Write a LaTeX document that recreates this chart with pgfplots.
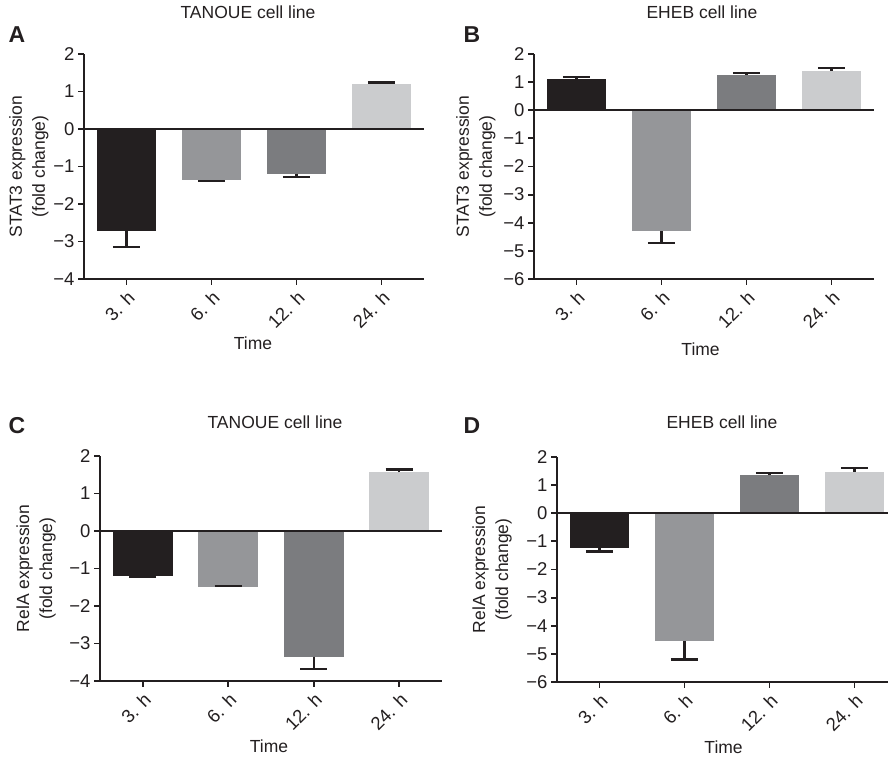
\documentclass[border=0pt]{standalone}
\usepackage{fontspec}
\setmainfont{Liberation Sans}
\usepackage{pgfplots}
\pgfplotsset{compat=1.18}
\definecolor{cA}{HTML}{231F20}
\definecolor{cB}{HTML}{959699}
\definecolor{cC}{HTML}{7B7C7F}
\definecolor{cD}{HTML}{CBCCCE}
\newcommand{\fs}{\fontsize{18.5}{21}\selectfont}
\newcommand{\fl}{\fontsize{17.5}{23}\selectfont}
% bar: x, value, colour
\newcommand{\pbar}[3]{\addplot[ybar, bar width=0.7, bar shift=0pt, fill=#3, draw=none]
  coordinates {(#1,#2)};}
% error bar: x, value, end, cap left, cap right
\newcommand{\ebar}[5]{\addplot[draw=cA, line width=2.3pt] coordinates {(#1,#2) (#1,#3)};
  \addplot[draw=cA, line width=2.3pt] coordinates {(#4,#3) (#5,#3)};}
\pgfplotsset{
  panel/.style={
    scale only axis, width=340pt, height=225pt, anchor=south west,
    axis x line=bottom, axis y line=left,
    axis line style={-, line width=1.8pt, cA},
    xmin=-0.5, xmax=3.5, xtick={0,1,2,3},
    xticklabels={3. h,6. h,12. h,24. h},
    tick align=outside, major tick length=6pt,
    tick style={line width=1.8pt, cA},
    xticklabel style={rotate=45, anchor=north east, font=\fs, text=cA},
    yticklabel style={font=\fs, text=cA},
    ylabel style={font=\fl, align=center, text=cA},
    xlabel style={font=\fl, text=cA},
    title style={font=\fl, text=cA, anchor=center},
    clip=false,
  },
  ya/.style={ymin=-4, ymax=2, ytick={-4,-3,-2,-1,0,1,2}, yticklabels={−4,−3,−2,−1,0,1,2}},
  yb/.style={ymin=-6, ymax=2, ytick={-6,-5,-4,-3,-2,-1,0,1,2}, yticklabels={−6,−5,−4,−3,−2,−1,0,1,2}},
}
\begin{document}
\begin{tikzpicture}[x=1pt,y=1pt]
\path[use as bounding box] (0,0) rectangle (888,759);
% Panel A
\begin{axis}[panel, ya, at={(84pt,480pt)},
  title={TANOUE cell line}, title style={at={(0.5,1)}, yshift=36pt, xshift=-6pt},
  ylabel={STAT3 expression\\(fold change)}, ylabel style={at={(axis description cs:-0.162,0.5)}, anchor=center},
  xlabel={Time}, xlabel style={at={(axis description cs:0.497,-0.284)}, anchor=center}]
\pbar{0}{-2.72}{cA}
\pbar{1}{-1.37}{cB}
\pbar{2}{-1.19}{cC}
\pbar{3}{1.20}{cD}
\ebar{0}{-2.72}{-3.14}{-0.16}{0.16}
\ebar{1}{-1.37}{-1.39}{0.84}{1.16}
\ebar{2}{-1.19}{-1.28}{1.84}{2.16}
\ebar{3}{1.20}{1.24}{2.84}{3.16}
\addplot[cA, line width=1.5pt] coordinates {(-0.5,0) (3.5,0)};
\end{axis}
% Panel B
\begin{axis}[panel, yb, at={(534pt,480pt)},
  title={EHEB cell line}, title style={at={(0.5,1)}, yshift=36pt, xshift=-2pt},
  ylabel={STAT3 expression\\(fold change)}, ylabel style={at={(axis description cs:-0.171,0.5)}, anchor=center},
  xlabel={Time}, xlabel style={at={(axis description cs:0.49,-0.311)}, anchor=center}]
\pbar{0}{1.12}{cA}
\pbar{1}{-4.30}{cB}
\pbar{2}{1.27}{cC}
\pbar{3}{1.41}{cD}
\ebar{0}{1.12}{1.17}{-0.16}{0.16}
\ebar{1}{-4.30}{-4.73}{0.84}{1.16}
\ebar{2}{1.27}{1.33}{1.84}{2.16}
\ebar{3}{1.41}{1.50}{2.84}{3.16}
\addplot[cA, line width=1.5pt] coordinates {(-0.5,0) (3.5,0)};
\end{axis}
% Panel C
\begin{axis}[panel, ya, at={(100pt,78pt)}, width=342pt,
  title={TANOUE cell line}, title style={at={(0.5,1)}, yshift=28pt, xshift=4pt},
  ylabel={RelA expression\\(fold change)}, ylabel style={at={(axis description cs:-0.187,0.5)}, anchor=center},
  xlabel={Time}, xlabel style={at={(axis description cs:0.494,-0.292)}, anchor=center}]
\pbar{0}{-1.21}{cA}
\pbar{1}{-1.50}{cB}
\pbar{2}{-3.35}{cC}
\pbar{3}{1.56}{cD}
\ebar{0}{-1.21}{-1.22}{-0.16}{0.16}
\ebar{1}{-1.48}{-1.47}{0.84}{1.16}
\ebar{2}{-3.35}{-3.68}{1.84}{2.16}
\ebar{3}{1.56}{1.64}{2.84}{3.16}
\addplot[cA, line width=1.5pt] coordinates {(-0.5,0) (3.5,0)};
\end{axis}
% Panel D
\begin{axis}[panel, yb, at={(557pt,77pt)},
  title={EHEB cell line}, title style={at={(0.5,1)}, yshift=29pt, xshift=-5pt},
  ylabel={RelA expression\\(fold change)}, ylabel style={at={(axis description cs:-0.191,0.5)}, anchor=center},
  xlabel={Time}, xlabel style={at={(axis description cs:0.49,-0.288)}, anchor=center}]
\pbar{0}{-1.24}{cA}
\pbar{1}{-4.56}{cB}
\pbar{2}{1.35}{cC}
\pbar{3}{1.48}{cD}
\ebar{0}{-1.24}{-1.36}{-0.16}{0.16}
\ebar{1}{-4.56}{-5.20}{0.84}{1.16}
\ebar{2}{1.35}{1.43}{1.84}{2.16}
\ebar{3}{1.48}{1.61}{2.84}{3.16}
\addplot[cA, line width=1.5pt] coordinates {(-0.5,0) (3.5,0)};
\end{axis}
% Panel letters
\node[font=\bfseries\fontsize{23}{23}\selectfont, text=cA] at (17,724) {A};
\node[font=\bfseries\fontsize{23}{23}\selectfont, text=cA] at (472,724) {B};
\node[font=\bfseries\fontsize{23}{23}\selectfont, text=cA] at (17,333) {C};
\node[font=\bfseries\fontsize{23}{23}\selectfont, text=cA] at (472,333) {D};
\end{tikzpicture}
\end{document}
